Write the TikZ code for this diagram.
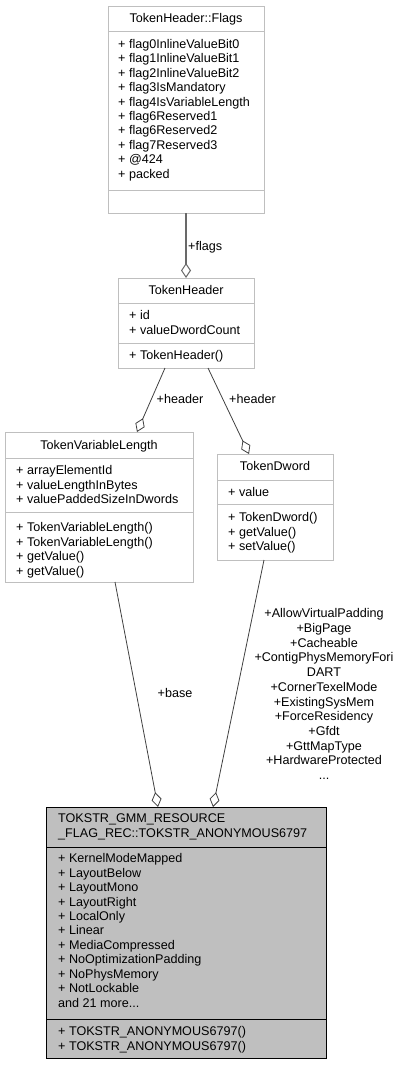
\documentclass[tikz,border=0pt]{standalone}
\usepackage{fontspec}
\setmainfont{Liberation Sans}
\usetikzlibrary{arrows.meta}
\newcommand\fsz{\fontsize{12.6}{14.45}\selectfont}
\newcommand\fszl{\fontsize{12.6}{14.7}\selectfont}
\definecolor{boxline}{RGB}{191,191,191}
\definecolor{boxfill}{RGB}{191,191,191}
\definecolor{edgecol}{RGB}{64,64,64}
\definecolor{flagcol}{RGB}{105,105,105}
\begin{document}
\begin{tikzpicture}[x=1pt,y=-1pt,
  classbox/.style={draw=boxline, line width=1pt, fill=white, inner sep=0pt, outer sep=0pt, anchor=north west},
  mainbox/.style={draw=black, line width=1pt, fill=boxfill, inner sep=0pt, outer sep=0pt, anchor=north west},
  sepl/.style={draw=boxline, line width=1pt},
  sepm/.style={draw=black, line width=1pt},
  members/.style={anchor=north west, inner sep=0pt, align=left, font=\fsz},
  title/.style={anchor=base, inner sep=0pt, font=\fsz},
  lbl/.style={anchor=base, inner sep=0pt, font=\fsz},
  assoc/.style={draw=edgecol, line width=0.8pt, -{Diamond[open, length=15pt, width=10pt, fill=white]}},
  assocf/.style={draw=flagcol, line width=1.5pt, -{Diamond[open, length=15pt, width=10pt, fill=white, line width=1pt]}},
]
\useasboundingbox (0,0) rectangle (402,1065);

% TokenHeader::Flags
\node[classbox, minimum width=156pt, minimum height=206pt] (flags) at (108,7) {};
\draw[sepl] (108,32) -- (264,32);
\draw[sepl] (108,190) -- (264,190);
\node[title] (flagsT) at (186,23) {TokenHeader::Flags};
\node[members] (flagsA) at (118,37.9) {\strut+ flag0InlineValueBit0\\\strut+ flag1InlineValueBit1\\\strut+ flag2InlineValueBit2\\\strut+ flag3IsMandatory\\\strut+ flag4IsVariableLength\\\strut+ flag6Reserved1\\\strut+ flag6Reserved2\\\strut+ flag7Reserved3\\\strut+ @424\\\strut+ packed};

% TokenHeader
\node[classbox, minimum width=136pt, minimum height=90pt] (th) at (118,278) {};
\draw[sepl] (118,303) -- (254,303);
\draw[sepl] (118,343) -- (254,343);
\node[title] (thT) at (186,294.5) {TokenHeader};
\node[members] (thA) at (129,309.4) {\strut+ id\\\strut+ valueDwordCount};
\node[members] (thM) at (129,349.4) {\strut+ TokenHeader()};

% TokenVariableLength
\node[classbox, minimum width=188pt, minimum height=150pt] (tvl) at (5,432) {};
\draw[sepl] (5,458) -- (193,458);
\draw[sepl] (5,512) -- (193,512);
\node[title] (tvlT) at (99,449.5) {TokenVariableLength};
\node[members] (tvlA) at (16,464.4) {\strut+ arrayElementId\\\strut+ valueLengthInBytes\\\strut+ valuePaddedSizeInDwords};
\node[members] (tvlM) at (16,521.4) {\strut+ TokenVariableLength()\\\strut+ TokenVariableLength()\\\strut+ getValue()\\\strut+ getValue()};

% TokenDword
\node[classbox, minimum width=116pt, minimum height=106pt] (td) at (217,454) {};
\draw[sepl] (217,480) -- (333,480);
\draw[sepl] (217,504) -- (333,504);
\node[title] (tdT) at (275,470.5) {TokenDword};
\node[members] (tdA) at (228,486.4) {\strut+ value};
\node[members] (tdM) at (228,511.4) {\strut+ TokenDword()\\\strut+ getValue()\\\strut+ setValue()};

% main class
\node[mainbox, minimum width=280pt, minimum height=251pt] (bot) at (46,807) {};
\draw[sepm] (46,847) -- (326,847);
\draw[sepm] (46,1019) -- (326,1019);
\node[members] (botT) at (58,812.4) {\strut TOKSTR\_GMM\_RESOURCE\\\strut\_FLAG\_REC::TOKSTR\_ANONYMOUS6797};
\node[members] (botA) at (58,852.4) {\strut+ KernelModeMapped\\\strut+ LayoutBelow\\\strut+ LayoutMono\\\strut+ LayoutRight\\\strut+ LocalOnly\\\strut+ Linear\\\strut+ MediaCompressed\\\strut+ NoOptimizationPadding\\\strut+ NoPhysMemory\\\strut+ NotLockable\\\strut and 21 more...};
\node[members] (botM) at (58,1025.4) {\strut+ TOKSTR\_ANONYMOUS6797()\\\strut+ TOKSTR\_ANONYMOUS6797()};

% connector end points
\path (th.south) ++(-21,0) coordinate (thL);
\path (th.south) ++(22,0) coordinate (thR);
\path (tvl.north) ++(38,0) coordinate (tvlIn);
\path (tvl.south) ++(16,0) coordinate (tvlOut);
\path (td.north) ++(-26,0) coordinate (tdIn);
\path (td.south) ++(-11,0) coordinate (tdOut);
\path (bot.north) ++(-28,0) coordinate (botL);
\path (bot.north) ++(27,0) coordinate (botR);

% connectors
\draw[assocf] (flags.south) -- (th.north);
\draw[assoc] (thL) -- (tvlIn);
\draw[assoc] (thR) -- (tdIn);
\draw[assoc] (tvlOut) -- (botL);
\draw[assoc] (tdOut) -- (botR);

% labels
\node[lbl, anchor=base west] (lflags) at (188,250.5) {+flags};
\node[lbl] (lh1) at (180,403.5) {+header};
\node[lbl] (lh2) at (252.5,403.5) {+header};
\node[lbl] (lbase) at (175,697.5) {+base};
\node[anchor=north, inner sep=0pt, align=center, font=\fszl] (lflagsr) at (324,607.4) {\strut+AllowVirtualPadding\\\strut+BigPage\\\strut+Cacheable\\\strut+ContigPhysMemoryFori\\\strut DART\\\strut+CornerTexelMode\\\strut+ExistingSysMem\\\strut+ForceResidency\\\strut+Gfdt\\\strut+GttMapType\\\strut+HardwareProtected\\\strut...};
\end{tikzpicture}
\end{document}
